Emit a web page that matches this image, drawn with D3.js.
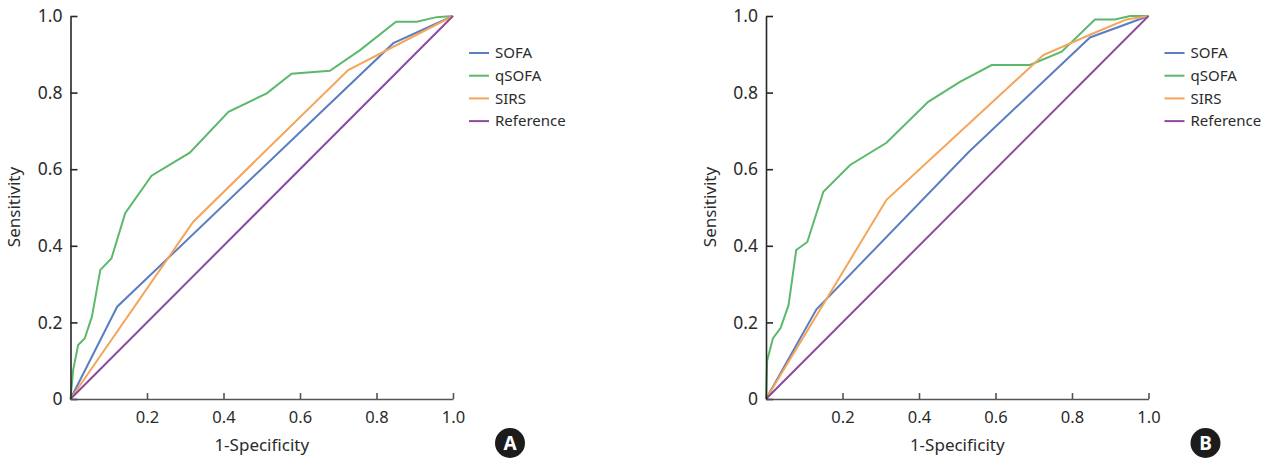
<!DOCTYPE html>
<html>
<head>
<meta charset="utf-8">
<script src="https://cdn.jsdelivr.net/npm/d3@7"></script>
<style>
  body { margin: 0; background: #fff; }
  svg text { font-family: "Noto Sans", sans-serif; fill: #2b2b2b; }
</style>
</head>
<body>
<div id="chart"></div>
<script>
// ROC points as [1-specificity, sensitivity]
const sofaA  = [[0,0],[0.122,0.241],[0.844,0.929],[1,1]];
const qsofaA = [[0,0],[0.007,0.076],[0.02,0.141],[0.037,0.158],[0.056,0.215],[0.078,0.337],[0.107,0.367],
                [0.143,0.485],[0.212,0.583],[0.312,0.643],[0.413,0.75],[0.513,0.798],[0.578,0.849],
                [0.678,0.857],[0.757,0.911],[0.851,0.985],[0.905,0.985],[0.957,0.997],[1,1]];
const sirsA  = [[0,0],[0.321,0.463],[0.726,0.859],[1,1]];

const sofaB  = [[0,0],[0.132,0.234],[0.53,0.645],[0.847,0.944],[1,1]];
const qsofaB = [[0,0],[0.003,0.1],[0.018,0.158],[0.038,0.185],[0.059,0.245],[0.079,0.389],[0.108,0.41],
                [0.15,0.541],[0.22,0.611],[0.315,0.669],[0.424,0.776],[0.507,0.828],[0.59,0.872],
                [0.69,0.872],[0.773,0.907],[0.86,0.991],[0.912,0.991],[0.952,1],[1,1]];
const sirsB  = [[0,0],[0.315,0.52],[0.725,0.898],[0.856,0.955],[0.943,0.991],[1,1]];

const refLine = [[0,0],[1,1]];

const seriesNames = ["SOFA","qSOFA","SIRS","Reference"];
const seriesColors = ["#5b7ec2","#5cb96b","#f5a458","#8c4b9c"];
const yTicks = [0,0.2,0.4,0.6,0.8,1.0];
const xTicks = [0.2,0.4,0.6,0.8,1.0];

const W = 1264, H = 466;
const svg = d3.select("#chart").append("svg").attr("width",W).attr("height",H);

function fmt(d){ return d === 0 ? "0" : d.toFixed(1); }

//one ROC panel
function drawPanel(left, right, series, badge){
  let x = d3.scaleLinear().domain([0,1]).range([left, right]),
      y = d3.scaleLinear().domain([0,1]).range([399, 16]);

  let g = svg.append("g");

  let line = d3.line()
      .x(function(d){ return x(d[0]); })
      .y(function(d){ return y(d[1]); });

  g.selectAll(".roc")
    .data(series)
    .enter().append("path")
    .attr("class","roc")
    .attr("d", function(d){ return line(d.vals); })
    .attr("fill","none")
    .attr("stroke", function(d){ return d.color; })
    .attr("stroke-width", 2);

  //axes
  let yAxis = g.append("g")
    .attr("transform","translate(" + left + ",0)")
    .call(d3.axisLeft(y).tickValues(yTicks).tickFormat(fmt).tickSizeInner(-7).tickSizeOuter(0).tickPadding(8));
  yAxis.selectAll("path, line").attr("stroke","#262626").attr("stroke-width",1.6);
  yAxis.selectAll("text").style("font-size","17.5px").attr("fill","#2b2b2b");

  let xAxis = g.append("g")
    .attr("transform","translate(0,399)")
    .call(d3.axisBottom(x).tickValues(xTicks).tickFormat(fmt).tickSizeInner(-6).tickSizeOuter(0).tickPadding(12));
  xAxis.selectAll("path, line").attr("stroke","#555").attr("stroke-width",1.6);
  xAxis.selectAll("text").style("font-size","16.5px").attr("fill","#2b2b2b");

  //axis titles
  g.append("text")
    .attr("transform","translate(" + (left - 56) + ",207) rotate(-90)")
    .attr("text-anchor","middle")
    .attr("dy","0.35em")
    .style("font-size","17px")
    .text("Sensitivity");

  g.append("text")
    .attr("x", (left + right)/2)
    .attr("y", 445)
    .attr("text-anchor","middle")
    .attr("dy","0.35em")
    .style("font-size","17px")
    .text("1-Specificity");

  //legend
  let lg = g.selectAll(".lg")
    .data(series)
    .enter().append("g")
    .attr("class","lg")
    .attr("transform", function(d,i){ return "translate(" + (right + 16) + "," + (53 + i*22.7) + ")"; });
  lg.append("line")
    .attr("x1",0).attr("x2",20)
    .attr("stroke", function(d){ return d.color; })
    .attr("stroke-width",2);
  lg.append("text")
    .attr("x",26)
    .attr("dy","0.35em")
    .style("font-size","15px")
    .text(function(d){ return d.name; });

  //panel letter
  g.append("circle")
    .attr("cx", right + 57).attr("cy", 443).attr("r", 15)
    .attr("fill","#1c1c1c");
  g.append("text")
    .attr("x", right + 57).attr("y", 443)
    .attr("text-anchor","middle").attr("dy","0.36em")
    .style("font-size","19px").style("font-weight","bold")
    .attr("fill","#fff").style("fill","#fff")
    .text(badge);
}

function makeSeries(list){
  return list.map(function(v,i){ return {name: seriesNames[i], color: seriesColors[i], vals: v}; });
}

drawPanel(70.5, 453, makeSeries([sofaA, qsofaA, sirsA, refLine]), "A");
drawPanel(766, 1148.5, makeSeries([sofaB, qsofaB, sirsB, refLine]), "B");
</script>
</body>
</html>
